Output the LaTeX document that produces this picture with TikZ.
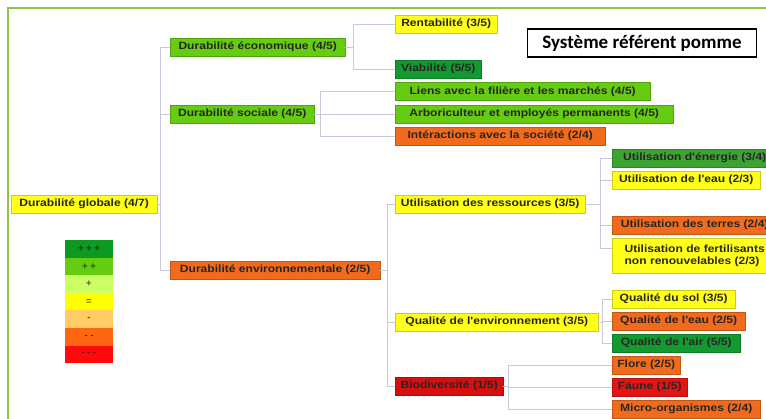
\documentclass[tikz,border=0pt]{standalone}
\usepackage{fontspec}
\setmainfont{Liberation Sans}
\newfontfamily\boxfont[FakeStretch=1.15]{Liberation Sans}
\newfontfamily\titlefont{Carlito}
\definecolor{cyel}{HTML}{FFFF1A}
\definecolor{clg}{HTML}{66CC11}
\definecolor{cdg}{HTML}{129A30}
\definecolor{cmg}{HTML}{3DA333}
\definecolor{cor}{HTML}{F26B1D}
\definecolor{cred}{HTML}{D80F0F}
\definecolor{cfau}{HTML}{E41414}
\definecolor{connc}{HTML}{C9C9DD}
\definecolor{framec}{HTML}{8CC63F}
\definecolor{lg1}{HTML}{0E9A22}
\definecolor{lg2}{HTML}{66CC11}
\definecolor{lg3}{HTML}{CCFF66}
\definecolor{lg4}{HTML}{FFFF00}
\definecolor{lg5}{HTML}{FFCC66}
\definecolor{lg6}{HTML}{FF6611}
\definecolor{lg7}{HTML}{FF0A0A}
\begin{document}
\begin{tikzpicture}[x=1pt,y=-1pt,
  box/.style={anchor=west, inner xsep=4pt, inner ysep=0pt, minimum height=18pt,
    font=\boxfont\bfseries\fontsize{10.5}{12}\selectfont, text=black!85,
    fill=#1, draw=#1!80!black, line width=0.4pt},
  conn/.style={draw=connc, line width=0.9pt},
  leg/.style={minimum width=48pt, minimum height=17.6pt, inner sep=0pt, fill=#1,
    font=\bfseries\fontsize{9.5}{9.5}\selectfont, text=#1!40!black},
  titlebox/.style={draw=black, line width=1.8pt, minimum width=229pt, minimum height=28pt,
    font=\titlefont\bfseries\fontsize{19}{20}\selectfont}
]
\useasboundingbox (0,0) rectangle (766,418);
\clip (0,0) rectangle (766,418);
\fill[white] (0,0) rectangle (766,418);
\draw[framec, line width=1.8pt] (8,8) rectangle (820,460);

% level 1
\node[box=cyel, minimum width=146pt] (glob) at (11,204) {Durabilité globale (4/7)};
% level 2
\node[box=clg, minimum width=175pt] (eco) at (170,47) {Durabilité économique (4/5)};
\node[box=clg, minimum width=144pt] (soc) at (170,114) {Durabilité sociale (4/5)};
\node[box=cor, minimum width=210pt] (env) at (170,270) {Durabilité environnementale (2/5)};
% level 3
\node[box=cyel, minimum width=102pt] (rent) at (395,24) {Rentabilité (3/5)};
\node[box=cdg, minimum width=86pt] (viab) at (395,69) {Viabilité (5/5)};
\node[box=clg, minimum width=255pt] (liens) at (395,91.5) {Liens avec la filière et les marchés (4/5)};
\node[box=clg, minimum width=278pt] (arbo) at (395,114) {Arboriculteur et employés permanents (4/5)};
\node[box=cor, minimum width=210pt] (inter) at (395,136) {Intéractions avec la société (2/4)};
\node[box=cyel, minimum width=190pt] (ress) at (395,204) {Utilisation des ressources (3/5)};
\node[box=cyel, minimum width=203pt] (qual) at (395,322) {Qualité de l'environnement (3/5)};
\node[box=cred, minimum width=108pt] (bio) at (395,386) {Biodiversité (1/5)};
% level 4
\node[box=cmg, minimum width=165pt] (ener) at (612,158) {Utilisation d'énergie (3/4)};
\node[box=cyel, minimum width=148pt] (eau) at (612,180) {Utilisation de l'eau (2/3)};
\node[box=cor, minimum width=165pt] (terres) at (612,225) {Utilisation des terres (2/4)};
\node[box=cyel, minimum width=165pt, minimum height=35pt, align=left] (fert) at (612,255.5) {Utilisation de fertilisants\\non renouvelables (2/3)};
\node[box=cyel, minimum width=123pt] (sol) at (612,299) {Qualité du sol (3/5)};
\node[box=cor, minimum width=133pt] (qeau) at (612,321) {Qualité de l'eau (2/5)};
\node[box=cdg, minimum width=128pt] (air) at (612,343) {Qualité de l'air (5/5)};
\node[box=cor, minimum width=68pt] (flore) at (612,365) {Flore (2/5)};
\node[box=cfau, minimum width=75pt] (faune) at (612,387) {Faune (1/5)};
\node[box=cor, minimum width=148pt] (micro) at (612,409) {Micro-organismes (2/4)};

% title
\node[titlebox] (title) at (642,43) {Système référent pomme};

% connectors
\coordinate (bg) at (160,204);
\coordinate (be) at (353,47);
\coordinate (bs) at (320,114);
\coordinate (bn) at (387,270);
\coordinate (br) at (600,204);
\coordinate (bq) at (602,322);
\coordinate (bb) at (508,386);
\draw[conn] (glob.east) -- (bg);
\draw[conn] (bg) |- (eco.west);
\draw[conn] (bg) |- (soc.west);
\draw[conn] (bg) |- (env.west);
\draw[conn] (eco.east) -- (be);
\draw[conn] (be) |- (rent.west);
\draw[conn] (be) |- (viab.west);
\draw[conn] (soc.east) -- (bs);
\draw[conn] (bs) |- (liens.west);
\draw[conn] (bs) |- (arbo.west);
\draw[conn] (bs) |- (inter.west);
\draw[conn] (env.east) -- (bn);
\draw[conn] (bn) |- (ress.west);
\draw[conn] (bn) |- (qual.west);
\draw[conn] (bn) |- (bio.west);
\draw[conn] (ress.east) -- (br);
\draw[conn] (br) |- (ener.west);
\draw[conn] (br) |- (eau.west);
\draw[conn] (br) |- (terres.west);
\draw[conn] (br) |- ([yshift=7pt]fert.west);
\draw[conn] (qual.east) -- (bq);
\draw[conn] (bq) |- (sol.west);
\draw[conn] (bq) |- (qeau.west);
\draw[conn] (bq) |- (air.west);
\draw[conn] (bio.east) -- (bb);
\draw[conn] (bb) |- (flore.west);
\draw[conn] (bb) |- (faune.west);
\draw[conn] (bb) |- (micro.west);

% legend
\node[leg=lg1] (l1) at (89,248.8) {+ + +};
\node[leg=lg2] (l2) at (89,266.4) {+ +};
\node[leg=lg3] (l3) at (89,284.0) {+};
\node[leg=lg4] (l4) at (89,301.6) {=};
\node[leg=lg5] (l5) at (89,319.2) {-};
\node[leg=lg6] (l6) at (89,336.8) {- -};
\node[leg=lg7] (l7) at (89,354.4) {- - -};
\end{tikzpicture}
\end{document}
